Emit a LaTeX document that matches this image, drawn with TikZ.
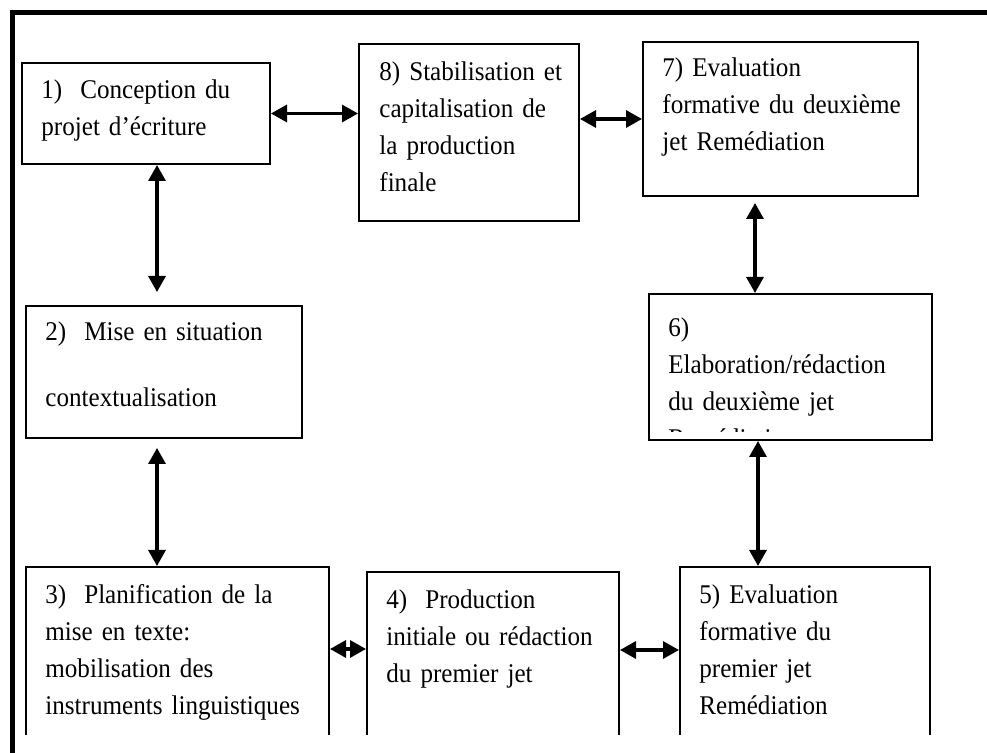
\documentclass[tikz,border=0pt]{standalone}
\usepackage{fontspec}
\setmainfont{Liberation Serif}[FakeStretch=0.93]
\usetikzlibrary{arrows.meta,fit,calc}

\begin{document}
\begin{tikzpicture}[x=0.5pt,y=-0.5pt,
  >={Triangle[length=8pt,width=8.5pt]},
  stagebox/.style={draw,line width=1pt,inner sep=0pt},
  stagetext/.style={anchor=base west,inner sep=0pt,align=left,text width=135pt,
    font=\fontsize{13.5}{18.5}\selectfont},
  link/.style={<->,line width=1.6pt},
  frame/.style={line width=2.5pt}]

\useasboundingbox (0,0) rectangle (987,753);

\draw[frame] (12.5,753) -- (12.5,12.5) -- (987,12.5);

% the boxes of the bottom row run off the page
\begin{scope}
\clip (0,0) rectangle (987,735);
\node (s1) [stagebox,fit={(22,63) (270,164)}] {};
\node (s8) [stagebox,fit={(359,44) (579,221)}] {};
\node (s7) [stagebox,fit={(643,42) (918,196)}] {};
\node (s2) [stagebox,fit={(26,306) (302,438)}] {};
\node (s6) [stagebox,fit={(649,294) (932,440)}] {};
\node (s3) [stagebox,fit={(26,567) (329,780)}] {};
\node (s4) [stagebox,fit={(367,572) (619,780)}] {};
\node (s5) [stagebox,fit={(680,567) (930,780)}] {};
\end{scope}

\node [stagetext] at ($(s1.north west)+(20,37)$) {1)~~Conception du\\projet d’écriture};
\node [stagetext] at ($(s8.north west)+(21,38)$) {8) Stabilisation et\\capitalisation de\\la production\\finale};
\node [stagetext] at ($(s7.north west)+(20,36)$) {7) Evaluation\\formative du deuxième\\jet Remédiation};
\node [stagetext] at ($(s2.north west)+(20,36)$) {2)~~Mise en situation\\[14.5pt]contextualisation};
\begin{scope}
\clip (s6.north west) rectangle ([yshift=4.5pt]s6.south east);
\node [stagetext] at ($(s6.north west)+(20,44)$) {6)\\Elaboration/rédaction\\du deuxième jet\\Remédiation};
\end{scope}
\node [stagetext] at ($(s3.north west)+(20,38)$) {3)~~Planification de la\\mise en texte:\\mobilisation des\\instruments linguistiques};
\node [stagetext] at ($(s4.north west)+(20,38)$) {4)~~Production\\initiale ou rédaction\\du premier jet};
\node [stagetext] at ($(s5.north west)+(20,38)$) {5) Evaluation\\formative du\\premier jet\\Remédiation};

\draw[link] (s1.east) -- (s1.east -| s8.west);
\draw[link] (s7.west -| s8.east) -- (s7.west);
\draw[link,shorten >=6.5pt] ([xshift=5.5pt]s1.south) -- ([xshift=5.5pt]s1.south |- s2.north);
\draw[link,shorten <=4.5pt] ([xshift=-3.5pt]s2.south) -- ([xshift=-3.5pt]s2.south |- s3.north);
\draw[link,shorten <=3pt] ([xshift=-12.75pt]s7.south) -- ([xshift=-12.75pt]s7.south |- s6.north);
\draw[link] ([xshift=-16.25pt]s6.south) -- ([xshift=-16.25pt]s6.south |- s5.north);
\draw[link] ([yshift=12.25pt]s3.east) -- ([yshift=12.25pt]s3.east -| s4.west);
\draw[link] ([yshift=13pt]s4.east) -- ([yshift=13pt]s4.east -| s5.west);

\end{tikzpicture}
\end{document}
